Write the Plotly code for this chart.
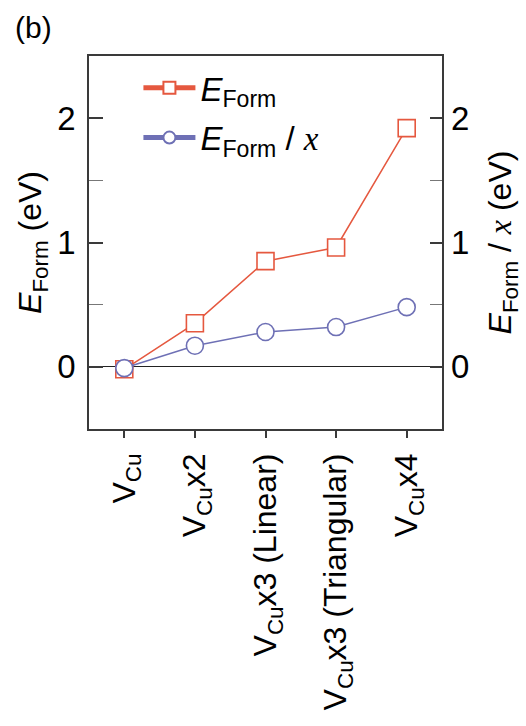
import plotly.graph_objects as go

categories = ["VCu", "VCux2", "VCux3 (Linear)", "VCux3 (Triangular)", "VCux4"]
tick_labels = ["V<sub>Cu</sub>", "V<sub>Cu</sub>x2", "V<sub>Cu</sub>x3 (Linear)",
               "V<sub>Cu</sub>x3 (Triangular)", "V<sub>Cu</sub>x4"]
e_form = [-0.02, 0.35, 0.85, 0.96, 1.92]
e_form_per_x = [-0.01, 0.17, 0.28, 0.32, 0.48]

RED = "#E5583F"
BLUE = "#6E70B5"
AXC = "#3a3a3a"
FONT = "Liberation Sans, Arial, sans-serif"
XSTYLE = "<span style=\"font-family:'Liberation Serif';font-style:italic\">x</span>"

fig = go.Figure()
fig.add_trace(go.Scatter(
    x=categories, y=e_form, mode="lines+markers",
    name="<i>E</i><sub>Form</sub>", legendgroup="a",
    line=dict(color=RED, width=1.5),
    marker=dict(symbol="square", size=17, color="white", line=dict(color=RED, width=1.6)),
))
fig.add_trace(go.Scatter(
    x=categories, y=e_form_per_x, mode="lines+markers", yaxis="y2",
    name="<i>E</i><sub>Form</sub> / " + XSTYLE, legendgroup="b",
    line=dict(color=BLUE, width=1.5),
    marker=dict(symbol="circle", size=17, color="white", line=dict(color=BLUE, width=1.6)),
))

yr = [-0.5, 2.5]
fig.update_layout(
    width=526, height=726,
    margin=dict(l=89, r=84, t=56, b=297),
    paper_bgcolor="white", plot_bgcolor="white",
    font=dict(family=FONT, color="black"),
    showlegend=True,
    legend=dict(x=0.14, y=0.99, xanchor="left", yanchor="top",
                font=dict(size=33, family=FONT), bgcolor="rgba(0,0,0,0)",
                traceorder="grouped", tracegroupgap=4, itemsizing="constant",
                itemwidth=52),
    xaxis=dict(
        type="category", categoryorder="array", categoryarray=categories,
        tickmode="array", tickvals=categories, ticktext=tick_labels,
        range=[-0.5, 4.5], tickangle=-90,
        showline=True, linecolor=AXC, linewidth=1.5, mirror=True,
        ticks="outside", ticklen=7, tickwidth=1.5, tickcolor=AXC,
        tickfont=dict(size=32), ticklabelstandoff=3,
        showgrid=False, zeroline=False,
    ),
    yaxis=dict(
        range=yr, tickvals=[0, 1, 2], showgrid=False,
        showline=True, linecolor=AXC, linewidth=1.5, mirror=True,
        ticks="inside", ticklen=14, tickwidth=1.5, tickcolor=AXC,
        minor=dict(tickvals=[0.5, 1.5], ticks="inside", ticklen=14, tickwidth=1.2, tickcolor="#777"),
        tickfont=dict(size=33), ticklabelstandoff=5,
        zeroline=True, zerolinecolor="#222", zerolinewidth=1.3,
        title=dict(text="<i>E</i><sub>Form</sub> (eV)", font=dict(size=32), standoff=6),
    ),
    yaxis2=dict(
        range=yr, tickvals=[0, 1, 2], overlaying="y", side="right", showgrid=False,
        ticks="inside", ticklen=12, tickwidth=1.5, tickcolor=AXC,
        minor=dict(tickvals=[0.5, 1.5], ticks="inside", ticklen=12, tickwidth=1.2, tickcolor="#777"),
        tickfont=dict(size=33), ticklabelstandoff=8, zeroline=False,
        title=dict(text="<i>E</i><sub>Form</sub> / " + XSTYLE + " (eV)", font=dict(size=32), standoff=20),
    ),
    annotations=[dict(text="(b)", xref="paper", yref="paper", x=-0.215, y=1.125,
                      xanchor="left", yanchor="top", showarrow=False, font=dict(size=30))],
)

fig.write_html("out.html")
